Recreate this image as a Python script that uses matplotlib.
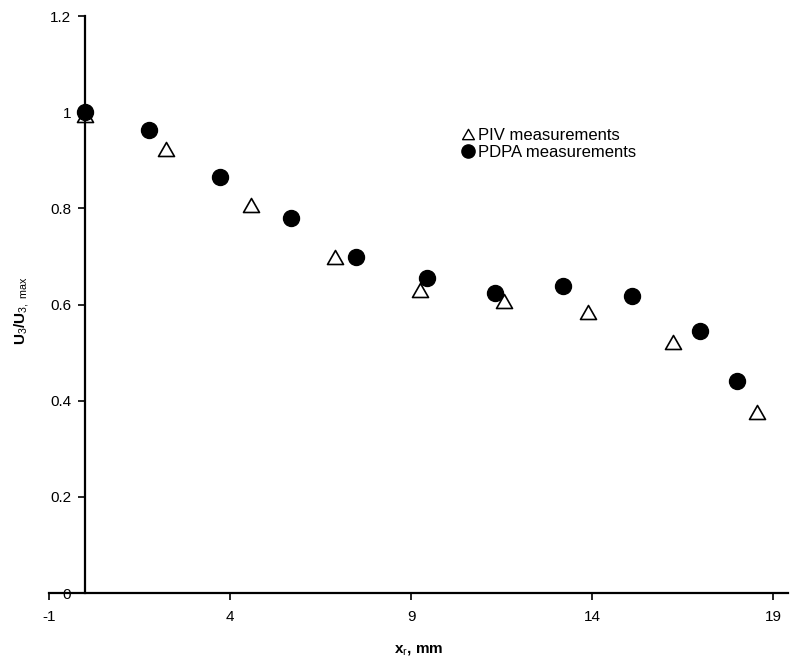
import matplotlib
matplotlib.use("Agg")
import matplotlib.pyplot as plt
from matplotlib.lines import Line2D
from matplotlib.path import Path

plt.rcParams['font.family'] = ['Liberation Sans', 'DejaVu Sans']
plt.rcParams['mathtext.fontset'] = 'custom'
plt.rcParams['mathtext.rm'] = 'Liberation Sans'
plt.rcParams['mathtext.bf'] = 'Liberation Sans:bold'
plt.rcParams['mathtext.it'] = 'Liberation Sans:italic'

# PIV measurements (open triangles)
piv_x = [0.0, 2.24, 4.59, 6.91, 9.25, 11.57, 13.9, 16.24, 18.56]
piv_y = [0.994, 0.923, 0.807, 0.699, 0.630, 0.607, 0.584, 0.522, 0.376]

# PDPA measurements (filled circles)
pdpa_x = [0.0, 1.77, 3.73, 5.69, 7.49, 9.45, 11.33, 13.2, 15.11, 16.99, 18.01]
pdpa_y = [1.0, 0.963, 0.865, 0.780, 0.699, 0.655, 0.624, 0.638, 0.617, 0.545, 0.441]

x_ticks = [-1, 4, 9, 14, 19]
y_ticks = [0, 0.2, 0.4, 0.6, 0.8, 1.0, 1.2]
y_ticklabels = ['0', '0.2', '0.4', '0.6', '0.8', '1', '1.2']
series_labels = ['PIV measurements', 'PDPA measurements']

tri = Path([(0, 0.875), (-1, -0.875), (1, -0.875), (0, 0.875)],
           [Path.MOVETO, Path.LINETO, Path.LINETO, Path.CLOSEPOLY])

fig = plt.figure(figsize=(8.01, 6.62), dpi=100)
ax = fig.add_axes([0.0612, 0.1042, 0.922, 0.8716])

ax.plot(pdpa_x, pdpa_y, linestyle='none', marker='o', markersize=11.5,
        color='black', markeredgecolor='black', zorder=3, clip_on=False)
ax.plot(piv_x, piv_y, linestyle='none', marker=tri, markersize=11.5,
        markerfacecolor='white', markeredgecolor='black', markeredgewidth=1.2,
        zorder=2, clip_on=False)

ax.set_xlim(-1, 19.4)
ax.set_ylim(0, 1.2)
ax.set_xticks(x_ticks)
ax.set_xticklabels([str(v) for v in x_ticks])
ax.set_yticks(y_ticks)
ax.set_yticklabels(y_ticklabels)

for s in ['top', 'right']:
    ax.spines[s].set_visible(False)
ax.spines['left'].set_position(('data', 0))
ax.spines['left'].set_linewidth(1.6)
ax.spines['bottom'].set_linewidth(1.6)
ax.tick_params(axis='both', direction='out', length=5, width=1.2,
               labelsize=11, colors='black')
ax.tick_params(axis='x', pad=7)
ax.tick_params(axis='y', pad=5)

ax.set_xlabel('x$_\\mathrm{r}$, mm', fontsize=11, fontweight='bold', labelpad=14)
fig.text(0.027, 0.53, 'U$_\\mathrm{3}$/U$_\\mathrm{3,\\ max}$', rotation=90,
         fontsize=11, fontweight='bold', ha='center', va='center')

handles = [
    Line2D([], [], linestyle='none', marker=tri, markersize=8.5,
           markerfacecolor='white', markeredgecolor='black', markeredgewidth=1.0),
    Line2D([], [], linestyle='none', marker='o', markersize=9.5,
           color='black'),
]
ax.legend(handles, series_labels,
          loc='upper left', bbox_to_anchor=(461 / 801, 1 - 128 / 662),
          bbox_transform=fig.transFigure, frameon=False, fontsize=12,
          handlelength=0.8, handletextpad=0.2, labelspacing=0.1,
          borderaxespad=0, borderpad=0)

fig.savefig('out.png', dpi=100)
